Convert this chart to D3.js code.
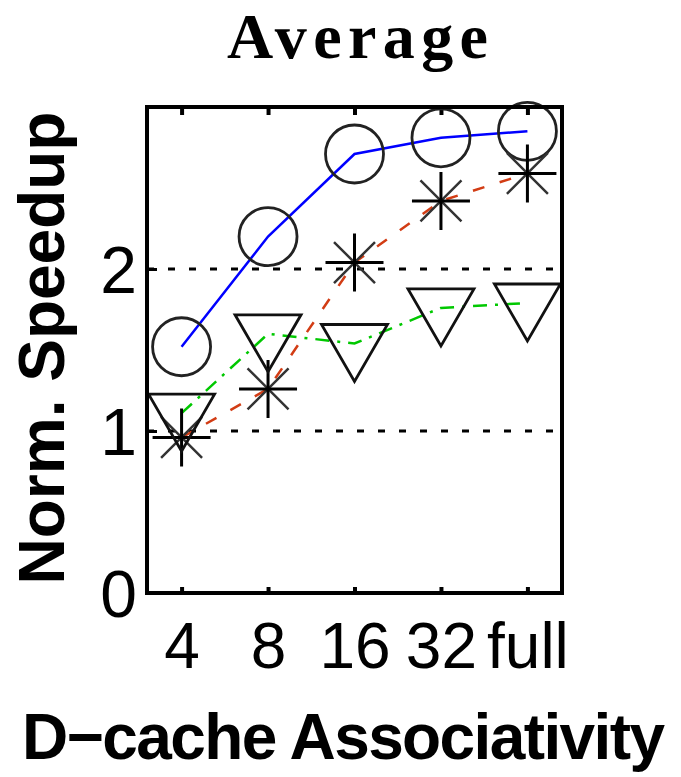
<!DOCTYPE html>
<html lang="en">
<head>
    <meta charset="UTF-8">
    <title>Average</title>
    <script src="https://d3js.org/d3.v7.min.js"></script>
    <style>
        body { margin: 0; background: #fff; }
        svg { display: block; }
    </style>
</head>
<body>
    <div id="chart"></div>
    <script>
        // Data
        const categories = ["4", "8", "16", "32", "full"];
        const circleSeries = [1.52, 2.20, 2.71, 2.81, 2.85];
        const starSeries = [0.96, 1.26, 2.04, 2.42, 2.59];
        const triangleSeries = [1.11, 1.60, 1.54, 1.76, 1.79];
        const yTicks = [0, 1, 2];
        const gridValues = [1, 2];

        const W = 681, H = 777;
        const svg = d3.select("#chart").append("svg")
            .attr("width", W)
            .attr("height", H);

        const margin = {top: 107, right: 119, bottom: 184, left: 147};
        const x = d3.scaleLinear()
            .domain([-0.4, categories.length - 0.6])
            .range([margin.left, W - margin.right]);
        const y = d3.scaleLinear()
            .domain([0, 3])
            .range([H - margin.bottom, margin.top]);

        const sans = "'Liberation Sans', Arial, sans-serif";

        // Title
        svg.append("text")
            .attr("x", 357.5)
            .attr("y", 58)
            .attr("text-anchor", "middle")
            .attr("textLength", 261)
            .style("font-family", "'Liberation Serif', 'Times New Roman', serif")
            .style("font-weight", "bold")
            .style("font-size", "64px")
            .text("Average");

        // Grid lines (dotted)
        svg.append("g").selectAll("line")
            .data(gridValues)
            .enter().append("line")
            .attr("x1", x.range()[0])
            .attr("x2", x.range()[1])
            .attr("y1", d => y(d))
            .attr("y2", d => y(d))
            .attr("stroke", "#000")
            .attr("stroke-width", 3)
            .attr("stroke-dasharray", "7,14");

        // Bottom axis: inward ticks, labels below
        const xAxis = svg.append("g")
            .attr("transform", `translate(0,${y(0)})`)
            .call(d3.axisBottom(x)
                .tickValues(d3.range(categories.length))
                .tickFormat(i => categories[i])
                .tickSizeInner(-6)
                .tickSizeOuter(0));
        xAxis.select(".domain").remove();
        xAxis.selectAll(".tick line").attr("stroke-width", 4);
        xAxis.selectAll(".tick text")
            .attr("y", 75)
            .attr("dy", null)
            .style("font-family", sans)
            .style("font-size", "64px")
            .attr("fill", "#000");

        // Top ticks
        const xTop = svg.append("g")
            .attr("transform", `translate(0,${y(3)})`)
            .call(d3.axisTop(x)
                .tickValues(d3.range(categories.length))
                .tickFormat("")
                .tickSizeInner(-8)
                .tickSizeOuter(0));
        xTop.select(".domain").remove();
        xTop.selectAll(".tick line").attr("stroke-width", 4);

        // Left axis
        const yAxis = svg.append("g")
            .attr("transform", `translate(${x.range()[0]},0)`)
            .call(d3.axisLeft(y)
                .tickValues(yTicks)
                .tickFormat(d3.format("d"))
                .tickSizeInner(-10)
                .tickSizeOuter(0));
        yAxis.select(".domain").remove();
        yAxis.selectAll(".tick line").attr("stroke-width", 3);
        yAxis.selectAll(".tick text")
            .attr("x", -10)
            .attr("dy", "0.35em")
            .style("font-family", sans)
            .style("font-size", "66px")
            .attr("fill", "#000");

        // Axis labels
        svg.append("text")
            .attr("transform", "translate(64,348) rotate(-90)")
            .attr("text-anchor", "middle")
            .style("font-family", sans)
            .style("font-weight", "bold")
            .style("font-size", "64px")
            .text("Norm. Speedup");

        svg.append("text")
            .attr("x", 343.5)
            .attr("y", 759)
            .attr("text-anchor", "middle")
            .attr("textLength", 643)
            .style("font-family", sans)
            .style("font-weight", "bold")
            .style("font-size", "64px")
            .text("D\u2212cache Associativity");

        // Lines
        const line = values => d3.line()
            .x((d, i) => x(i))
            .y(d => y(d))(values);

        const plot = svg.append("g");

        plot.append("path")
            .attr("d", line(circleSeries))
            .attr("fill", "none")
            .attr("stroke", "#0000ff")
            .attr("stroke-width", 2.5);

        plot.append("path")
            .attr("d", line(starSeries))
            .attr("fill", "none")
            .attr("stroke", "#d23c14")
            .attr("stroke-width", 2.5)
            .attr("stroke-dasharray", "12,16");

        plot.append("path")
            .attr("d", line(triangleSeries))
            .attr("fill", "none")
            .attr("stroke", "#00c800")
            .attr("stroke-width", 2.5)
            .attr("stroke-dasharray", "14,8,3,8");

        // Circle markers
        plot.append("g").selectAll("circle")
            .data(circleSeries)
            .enter().append("circle")
            .attr("cx", (d, i) => x(i))
            .attr("cy", d => y(d))
            .attr("r", 29)
            .attr("fill", "none")
            .attr("stroke", "#222")
            .attr("stroke-width", 2.8);

        // Asterisk markers: plus arms heavy, diagonal arms lighter
        const stars = plot.append("g").selectAll("g")
            .data(starSeries)
            .enter().append("g")
            .attr("transform", (d, i) => `translate(${x(i)},${y(d)})`);
        stars.append("path")
            .attr("d", "M-20.5,-20.5L20.5,20.5M-20.5,20.5L20.5,-20.5")
            .attr("stroke", "#333")
            .attr("stroke-width", 2.5);
        stars.append("path")
            .attr("d", "M-29,0H29M0,-29V29")
            .attr("stroke", "#000")
            .attr("stroke-width", 3);

        // Downward triangle markers (centroid at data point)
        plot.append("g").selectAll("path")
            .data(triangleSeries)
            .enter().append("path")
            .attr("transform", (d, i) => `translate(${x(i)},${y(d)})`)
            .attr("d", "M-33,-19H33L0,38Z")
            .attr("fill", "none")
            .attr("stroke", "#111")
            .attr("stroke-width", 2.8)
            .attr("stroke-linejoin", "miter");

        // Box
        svg.append("rect")
            .attr("x", x.range()[0])
            .attr("y", y(3))
            .attr("width", x.range()[1] - x.range()[0])
            .attr("height", y(0) - y(3))
            .attr("fill", "none")
            .attr("stroke", "#000")
            .attr("stroke-width", 4);
    </script>
</body>
</html>
